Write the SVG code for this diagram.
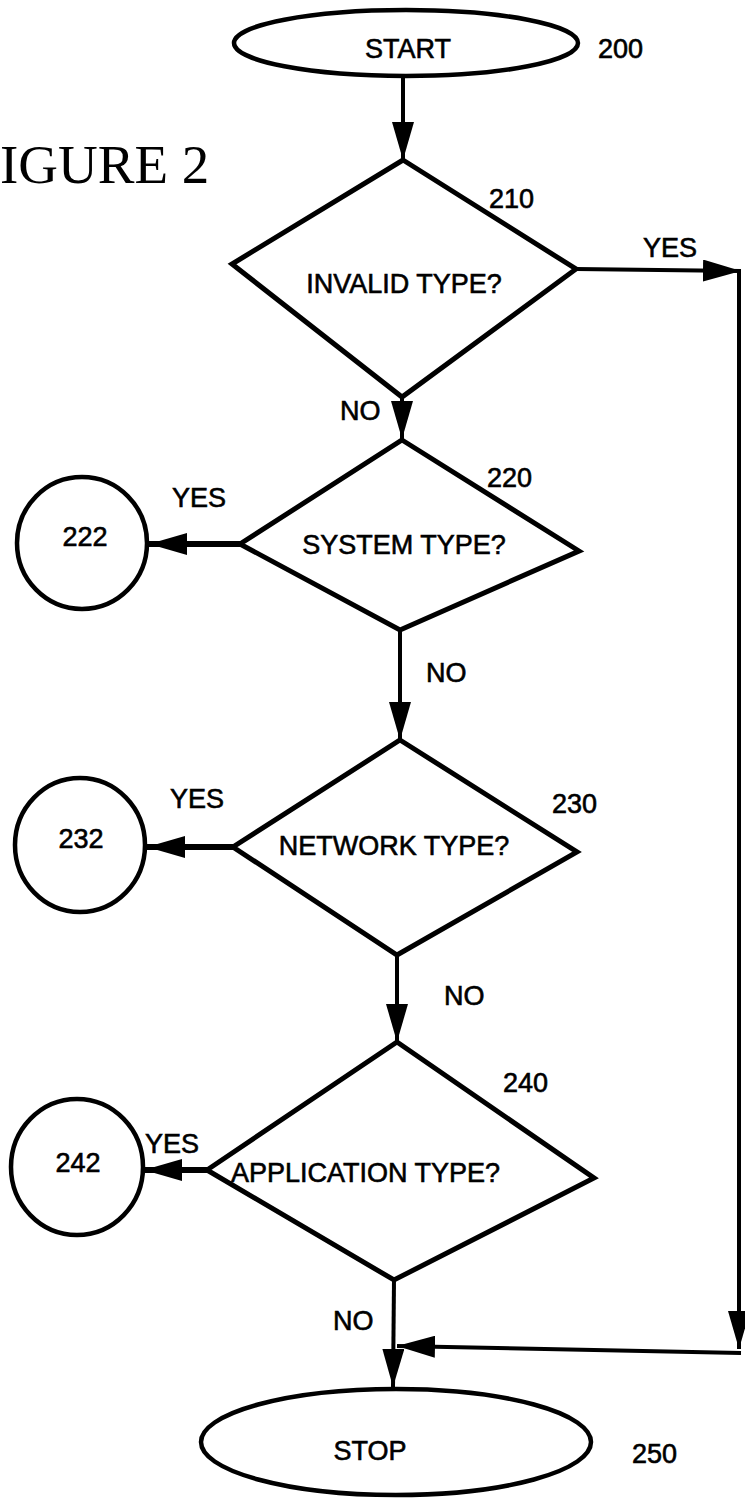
<svg xmlns="http://www.w3.org/2000/svg" width="745" height="1499" viewBox="0 0 745 1499">
<style>
.shape{fill:none;stroke:#000;stroke-width:4.5;stroke-linejoin:miter}
.dia{fill:none;stroke:#000;stroke-width:5;stroke-linejoin:miter}
.conn{fill:none;stroke:#000;stroke-width:4}
.thick{stroke-width:6}
.lbl{font-family:"Liberation Sans",Arial,sans-serif;font-size:27px;fill:#000;stroke:#000;stroke-width:0.6}
.mid{text-anchor:middle}
.fig{font-family:"Liberation Serif","Times New Roman",serif;font-size:55px;fill:#000}
</style>
<defs>
<marker id="ah" viewBox="0 0 38 22" refX="38" refY="11" markerWidth="38" markerHeight="22" markerUnits="userSpaceOnUse" orient="auto">
<path d="M0,0 L38,11 L0,22 z" fill="#000"/>
</marker>
</defs>
<text class="fig" x="0" y="183">IGURE 2</text>
<g id="connectors">
<line class="conn" x1="403" y1="76" x2="403" y2="160" marker-end="url(#ah)"/>
<line class="conn" x1="576" y1="269" x2="741" y2="271" marker-end="url(#ah)"/>
<line class="conn" x1="739" y1="271" x2="739" y2="1349" marker-end="url(#ah)"/>
<line class="conn" x1="741" y1="1353" x2="397" y2="1346" marker-end="url(#ah)"/>
<line class="conn" x1="402" y1="397" x2="402" y2="439" marker-end="url(#ah)"/>
<line class="conn" x1="400" y1="630" x2="400" y2="740" marker-end="url(#ah)"/>
<line class="conn" x1="397" y1="955" x2="397" y2="1042" marker-end="url(#ah)"/>
<line class="conn" x1="394" y1="1280" x2="393" y2="1387" marker-end="url(#ah)"/>
<line class="conn thick" x1="240" y1="544" x2="149" y2="544" marker-end="url(#ah)"/>
<line class="conn thick" x1="233" y1="847" x2="147" y2="847" marker-end="url(#ah)"/>
<line class="conn thick" x1="207" y1="1170" x2="144" y2="1170" marker-end="url(#ah)"/>
<text class="lbl" x="643" y="257">YES</text>
<text class="lbl" x="340" y="420">NO</text>
<text class="lbl" x="172" y="507">YES</text>
<text class="lbl" x="426" y="682">NO</text>
<text class="lbl" x="170" y="808">YES</text>
<text class="lbl" x="444" y="1005">NO</text>
<text class="lbl" x="145" y="1153">YES</text>
<text class="lbl" x="333" y="1330">NO</text>
</g>
<g id="n200">
<ellipse class="shape" cx="406" cy="43" rx="172" ry="33"/>
<text class="lbl mid" x="408" y="58">START</text>
<text class="lbl" x="598" y="58">200</text>
</g>
<g id="n210">
<polygon class="dia" points="403,160 576,269 402,397 232,264"/>
<text class="lbl mid" x="404" y="293">INVALID TYPE?</text>
<text class="lbl" x="489" y="208">210</text>
</g>
<g id="n220">
<polygon class="dia" points="402,440 579,551 400,630 240,544"/>
<text class="lbl mid" x="404" y="554">SYSTEM TYPE?</text>
<text class="lbl" x="487" y="487">220</text>
</g>
<g id="n222">
<ellipse class="shape" cx="82" cy="543" rx="65" ry="66"/>
<text class="lbl mid" x="85" y="546">222</text>
</g>
<g id="n230">
<polygon class="dia" points="400,740 577,852 397,955 233,847"/>
<text class="lbl mid" x="394" y="855">NETWORK TYPE?</text>
<text class="lbl" x="552" y="813">230</text>
</g>
<g id="n232">
<ellipse class="shape" cx="80" cy="845" rx="65" ry="67"/>
<text class="lbl mid" x="81" y="848">232</text>
</g>
<g id="n240">
<polygon class="dia" points="397,1042 594,1178 394,1280 207,1170"/>
<text class="lbl" x="231" y="1182">APPLICATION TYPE?</text>
<text class="lbl" x="503" y="1092">240</text>
</g>
<g id="n242">
<ellipse class="shape" cx="77" cy="1167" rx="66" ry="68"/>
<text class="lbl mid" x="78" y="1172">242</text>
</g>
<g id="n250">
<ellipse class="shape" cx="396" cy="1442" rx="195" ry="53"/>
<text class="lbl mid" x="370" y="1460">STOP</text>
<text class="lbl" x="632" y="1463">250</text>
</g>
</svg>
